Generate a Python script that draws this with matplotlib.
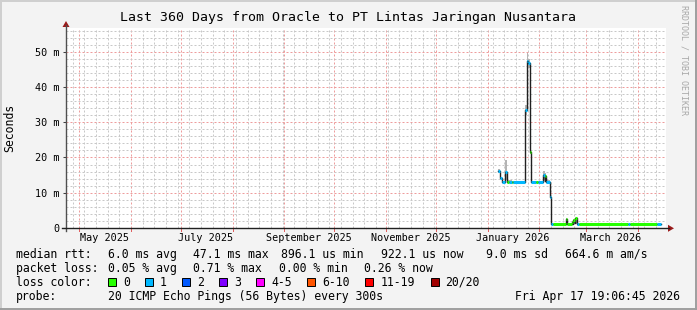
import datetime as dt
import matplotlib
matplotlib.use("Agg")
import matplotlib.pyplot as plt
import matplotlib.dates as mdates
from matplotlib.lines import Line2D
from matplotlib.patches import Polygon, Rectangle
from matplotlib.ticker import MultipleLocator

# ---- data -------------------------------------------------------------
end_time = dt.datetime(2026, 4, 17, 19, 6, 45)
start_time = end_time - dt.timedelta(days=360)

# median rtt, one entry per step (value holds until the next start)
seg_start = [
    "2026-01-07 12:00", "2026-01-08 17:00", "2026-01-09 17:00", "2026-01-11 19:00",
    "2026-01-12 10:00", "2026-01-13 22:00", "2026-01-15 10:00", "2026-01-16 07:00",
    "2026-01-23 19:00", "2026-01-24 10:00", "2026-01-25 14:00", "2026-01-26 17:00",
    "2026-01-27 05:00", "2026-01-30 02:00", "2026-01-31 07:00", "2026-02-03 12:00",
    "2026-02-04 05:00", "2026-02-04 17:00", "2026-02-05 07:00", "2026-02-07 14:00",
    "2026-02-08 05:00", "2026-02-09 14:00", "2026-02-17 02:00", "2026-02-17 17:00",
    "2026-02-20 10:00", "2026-02-21 00:00", "2026-02-21 12:00", "2026-02-22 05:00",
    "2026-02-22 19:00", "2026-02-23 10:00", "2026-02-24 22:00", "2026-03-26 07:00",
    "2026-03-27 12:00", "2026-04-12 22:00",
]
data_end = "2026-04-15 02:00"
seg_median_ms = [
    16.2, 14.1, 13.1, 16.0,
    13.0, 13.0, 13.0, 13.0,
    33.5, 47.3, 46.7, 21.6,
    13.0, 13.0, 13.0, 15.0,
    13.2, 14.8, 13.0, 8.9,
    1.05, 1.05, 2.5, 1.05,
    1.8, 1.2, 2.3, 1.5,
    2.7, 1.05, 1.05, 1.05,
    1.05, 1.05,
]
seg_loss = [
    1, 1, 1, 1,
    0, 1, 0, 1,
    1, 1, 1, 0,
    1, 0, 1, 1,
    1, 0, 1, 1,
    1, 0, 0, 0,
    0, 0, 0, 0,
    0, 1, 0, 1,
    0, 1,
]
seg_smoke_lo_ms = [
    15.6, 13.8, 12.9, 13.5,
    12.8, 12.8, 12.8, 12.8,
    32.0, 44.5, 45.5, 21.0,
    12.8, 12.8, 12.8, 13.5,
    12.9, 13.5, 12.8, 8.5,
    0.95, 0.95, 1.0, 0.95,
    1.0, 1.0, 1.0, 1.0,
    1.0, 0.95, 0.95, 0.95,
    0.95, 0.95,
]
seg_smoke_hi_ms = [
    16.8, 14.5, 13.4, 19.3,
    13.6, 13.6, 13.4, 13.4,
    35.0, 49.5, 48.0, 22.5,
    13.4, 13.4, 13.4, 16.2,
    13.6, 15.5, 13.6, 9.3,
    1.2, 1.2, 2.8, 1.2,
    2.0, 1.4, 2.6, 1.7,
    2.9, 1.2, 1.2, 1.2,
    1.2, 1.2,
]

y_ticks_ms = [0, 10, 20, 30, 40, 50]
y_tick_labels = ["0", "10 m", "20 m", "30 m", "40 m", "50 m"]
x_label_dates = ["2025-05-16", "2025-07-16", "2025-09-16",
                 "2025-11-16", "2026-01-16", "2026-03-16"]
x_labels = ["May 2025", "July 2025", "September 2025",
            "November 2025", "January 2026", "March 2026"]

loss_names = ["0", "1", "2", "3", "4-5", "6-10", "11-19", "20/20"]
loss_colors = ["#26ff00", "#00b8ff", "#0059ff", "#7e00ff",
               "#ff00ff", "#ff5500", "#ff0000", "#a10000"]

rtt_texts = ["median rtt:", "6.0 ms avg", "47.1 ms max", "896.1 us min",
             "922.1 us now", "9.0 ms sd", "664.6 m am/s"]
loss_texts = ["packet loss:", "0.05 % avg", "0.71 % max", "0.00 % min", "0.26 % now"]
title = "Last 360 Days from Oracle to PT Lintas Jaringan Nusantara"
probe_text = "20 ICMP Echo Pings (56 Bytes) every 300s"
stamp_text = "Fri Apr 17 19:06:45 2026"


def loss_bucket(n):
    if n <= 3:
        return n
    if n <= 5:
        return 4
    if n <= 10:
        return 5
    if n <= 19:
        return 6
    return 7


# ---- figure -----------------------------------------------------------
W, H = 697, 310
MONO = "DejaVu Sans Mono"


def fx(x):
    return x / W


def fy(y):
    return 1 - y / H


fig = plt.figure(figsize=(W / 100, H / 100), dpi=100, facecolor="#f3f3f3")
ax = fig.add_axes([fx(65.5), fy(228), 600 / W, 200 / H])
ax.set_facecolor("white")
for s in ax.spines.values():
    s.set_visible(False)

ax.set_xlim(start_time, end_time)
ax.set_ylim(0, 200 / 3.526)

ax.xaxis.set_major_locator(mdates.MonthLocator())
ax.xaxis.set_minor_locator(mdates.WeekdayLocator(byweekday=mdates.SU))
ax.yaxis.set_major_locator(MultipleLocator(10))
ax.yaxis.set_minor_locator(MultipleLocator(2))
ax.grid(which="minor", color="#c8c8c8", lw=0.72, ls=(0, (2, 2)))
ax.grid(which="major", color="#ee9c9c", lw=0.72, ls=(0, (2, 2)))
ax.set_axisbelow(True)

ax.tick_params(axis="x", which="both", length=0, labelbottom=False)
ax.tick_params(axis="y", which="minor", length=0)
ax.set_yticks(y_ticks_ms)
ax.set_yticklabels(y_tick_labels, fontfamily=MONO, fontsize=7.3)
ax.tick_params(axis="y", which="major", length=2.2, width=0.75,
               color="#404040", pad=2.2)

# series
t = [dt.datetime.strptime(s, "%Y-%m-%d %H:%M") for s in seg_start]
t_end = dt.datetime.strptime(data_end, "%Y-%m-%d %H:%M")
tt = t + [t_end]
ax.fill_between(tt, seg_smoke_lo_ms + [seg_smoke_lo_ms[-1]],
                seg_smoke_hi_ms + [seg_smoke_hi_ms[-1]],
                step="post", color="#b4b4b4", lw=0, zorder=2)
ax.step(tt, seg_median_ms + [seg_median_ms[-1]], where="post",
        color="#202020", lw=1.0, zorder=3)
for i in range(len(t)):
    ax.hlines(seg_median_ms[i], tt[i], tt[i + 1],
              colors=loss_colors[loss_bucket(seg_loss[i])],
              lw=2.2, zorder=4, capstyle="butt")

# x labels at mid month
xtr = ax.get_xaxis_transform()
for d, lab in zip(x_label_dates, x_labels):
    ax.text(dt.datetime.strptime(d, "%Y-%m-%d"), -0.05, lab, transform=xtr,
            ha="center", va="center", fontfamily=MONO, fontsize=7.3)
for m in mdates.MonthLocator().tick_values(start_time, end_time):
    ax.plot([mdates.num2date(m)] * 2, [0, -0.015], transform=xtr,
            color="#e06060", lw=0.72, clip_on=False)

# axis lines and arrows
fig.add_artist(Line2D([fx(66), fx(66)], [fy(231), fy(25)], color="#505050", lw=1.0))
fig.add_artist(Line2D([fx(62), fx(669)], [fy(228.3), fy(228.3)], color="#202020", lw=1.0))
fig.add_artist(Polygon([(fx(62.5), fy(27)), (fx(69.5), fy(27)), (fx(66), fy(21))],
                       closed=True, color="#9b1a1a", lw=0))
fig.add_artist(Polygon([(fx(668), fy(224.8)), (fx(668), fy(231.8)), (fx(674), fy(228.3))],
                       closed=True, color="#9b1a1a", lw=0))

# frame
fig.add_artist(Line2D([0, 1], [fy(0.5), fy(0.5)], color="#cfcfcf", lw=1.4))
fig.add_artist(Line2D([fx(0.5), fx(0.5)], [0, 1], color="#cfcfcf", lw=1.4))
fig.add_artist(Line2D([0, 1], [fy(309), fy(309)], color="#9e9e9e", lw=1.4))
fig.add_artist(Line2D([fx(696), fx(696)], [0, 1], color="#9e9e9e", lw=1.4))

# texts
fig.text(fx(348.5), fy(18), title, ha="center", va="center",
         fontfamily=MONO, fontsize=9.5)
fig.text(fx(10), fy(128), "Seconds", rotation=90, ha="center", va="center",
         fontfamily=MONO, fontsize=8.3)
fig.text(fx(684), fy(60), "RRDTOOL / TOBI OETIKER", rotation=-90,
         ha="center", va="center", fontfamily=MONO, fontsize=6.0, color="#a8a8a8")

kw = dict(fontfamily=MONO, fontsize=8.3, va="center", ha="left")
for x, s in zip([16, 107.6, 192.9, 281.3, 381.3, 486.2, 565.3], rtt_texts):
    fig.text(fx(x), fy(254.3), s, **kw)
for x, s in zip([16, 107.6, 192.9, 279, 364.4], loss_texts):
    fig.text(fx(x), fy(268.3), s, **kw)
fig.text(fx(16), fy(282.3), "loss color:", **kw)
box_x = [108.4, 145.3, 182.2, 219.1, 256, 307.1, 365.3, 431.1]
lab_x = [123.6, 160, 196.9, 234.2, 271.1, 322.2, 380.4, 444.9]
for bx, lx, name, c in zip(box_x, lab_x, loss_names, loss_colors):
    fig.add_artist(Rectangle((fx(bx), fy(286.3)), 8 / W, 8 / H,
                             facecolor=c, edgecolor="black", lw=0.7))
    fig.text(fx(lx), fy(282.3), name, **kw)
fig.text(fx(16), fy(296.3), "probe:", **kw)
fig.text(fx(107.6), fy(296.3), probe_text, **kw)
fig.text(fx(680), fy(296.3), stamp_text, fontfamily=MONO, fontsize=8.3,
         va="center", ha="right")

fig.savefig("out.png", dpi=100, facecolor=fig.get_facecolor())
